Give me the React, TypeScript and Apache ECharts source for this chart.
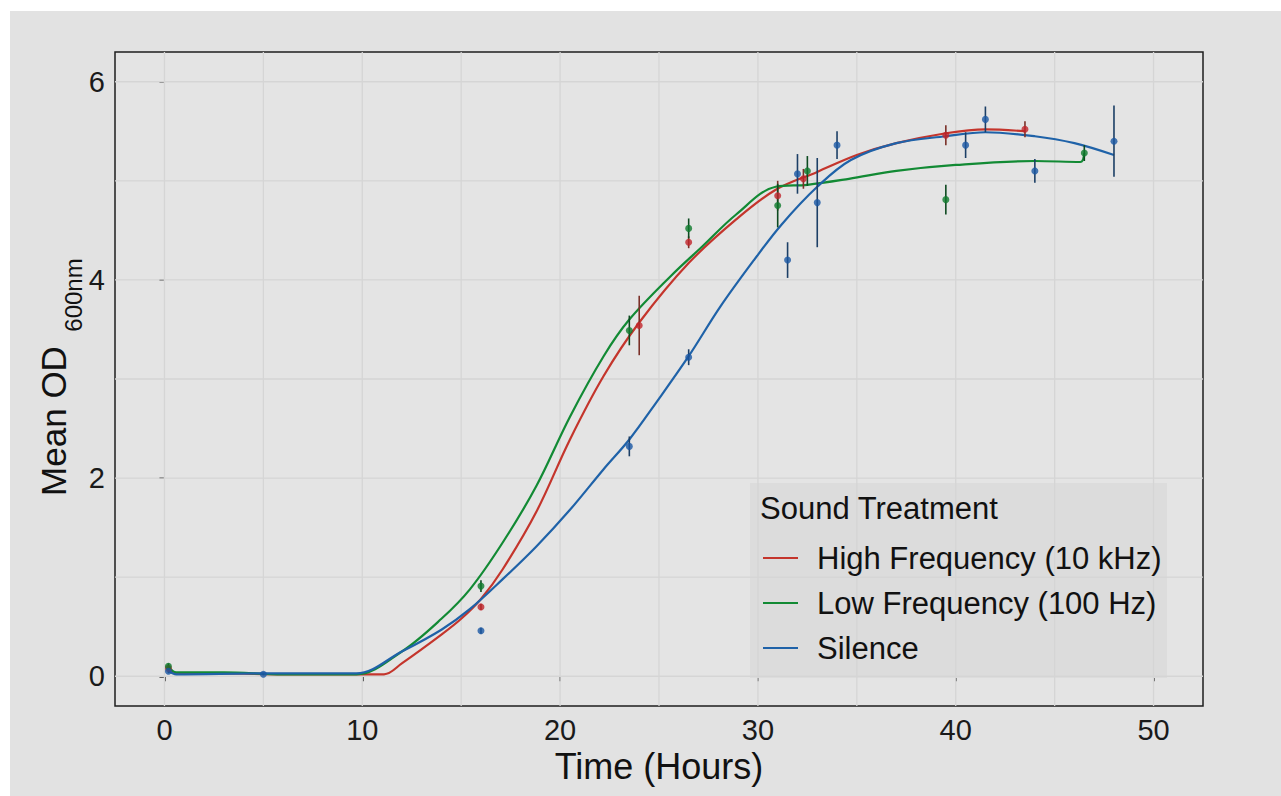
import React, { useEffect, useRef } from "react";
import * as echarts from "echarts";

// ---------- data ----------
const seriesNames = ["High Frequency (10 kHz)", "Low Frequency (100 Hz)", "Silence"];
const lineColors = ["#c4352c", "#128a34", "#1f62a8"];
const pointColors = ["#c0242a", "#0e7a2c", "#1a58a4"];
const barColors = ["#7a3028", "#0d4a20", "#1c3f66"];

const xTicks = [0, 10, 20, 30, 40, 50];
const yTicks = [0, 2, 4, 6];
const xGrid = [0, 5, 10, 15, 20, 25, 30, 35, 40, 45, 50];
const yGrid = [0, 1, 2, 3, 4, 5, 6];

// fitted curves
const highFitT = [0.2, 0.6, 3, 6, 9, 11.1, 12, 14, 15, 16, 17.1, 18.8, 20.5, 22.2, 24, 26.5, 28.9, 30.9, 33, 35, 37, 39.5, 41.5, 43.5];
const highFitV = [0.08, 0.03, 0.03, 0.02, 0.02, 0.02, 0.13, 0.42, 0.58, 0.78, 1.08, 1.66, 2.39, 3.03, 3.57, 4.17, 4.61, 4.91, 5.09, 5.26, 5.38, 5.48, 5.52, 5.5];
const lowFitT = [0.2, 0.6, 3, 6, 9.7, 12, 14, 15.45, 17.1, 18.8, 20.5, 22.2, 23.5, 25.6, 27.2, 28.9, 30.9, 32.5, 34.6, 37, 40, 44, 46.3, 46.5];
const lowFitV = [0.1, 0.04, 0.04, 0.02, 0.02, 0.25, 0.58, 0.88, 1.35, 1.92, 2.62, 3.23, 3.6, 4.04, 4.34, 4.66, 4.94, 4.96, 5.02, 5.1, 5.16, 5.2, 5.19, 5.28];
const silFitT = [0.2, 0.6, 5, 9.7, 12, 14, 15.45, 17.1, 18.8, 20.5, 22.2, 23.5, 24.85, 26.5, 28.1, 29.8, 31.2, 33, 34.7, 37, 39.5, 41.5, 44, 46, 48];
const silFitV = [0.05, 0.02, 0.03, 0.03, 0.25, 0.47, 0.68, 0.98, 1.31, 1.68, 2.09, 2.39, 2.76, 3.23, 3.73, 4.2, 4.56, 4.94, 5.21, 5.38, 5.45, 5.49, 5.45, 5.38, 5.26];

// observed means and error half-widths
const highPtT = [0.2, 16, 24, 26.5, 31, 32.3, 39.5, 43.5];
const highPtV = [0.08, 0.7, 3.54, 4.38, 4.85, 5.02, 5.46, 5.52];
const highPtE = [0.02, 0.03, 0.3, 0.06, 0.15, 0.1, 0.1, 0.08];
const lowPtT = [0.2, 16, 23.5, 26.5, 31, 32.5, 39.5, 46.5];
const lowPtV = [0.1, 0.91, 3.49, 4.52, 4.75, 5.1, 4.81, 5.28];
const lowPtE = [0.03, 0.06, 0.15, 0.1, 0.22, 0.15, 0.15, 0.08];
const silPtT = [0.2, 5, 16, 23.5, 26.5, 31.5, 32, 33, 34, 40.5, 41.5, 44, 48];
const silPtV = [0.05, 0.02, 0.46, 2.32, 3.22, 4.2, 5.07, 4.78, 5.36, 5.36, 5.62, 5.1, 5.4];
const silPtE = [0.02, 0.01, 0.03, 0.1, 0.08, 0.18, 0.2, 0.45, 0.14, 0.13, 0.13, 0.12, 0.36];

const fits = [
  [highFitT, highFitV],
  [lowFitT, lowFitV],
  [silFitT, silFitV],
];
const pts = [
  [highPtT, highPtV, highPtE],
  [lowPtT, lowPtV, lowPtE],
  [silPtT, silPtV, silPtE],
];

const FONT = "'Liberation Sans', Arial, Helvetica, sans-serif";

function buildOption(): any {
  const series: any[] = [];
  // gridlines
  series.push({
    type: "custom",
    silent: true,
    z: 1,
    data: xGrid.map((v) => [v, 0]),
    encode: { x: 0, y: 1 },
    renderItem: (params: any, api: any) => {
      const c = api.coord([api.value(0), 0]);
      const cs = params.coordSys;
      return {
        type: "line",
        shape: { x1: c[0], y1: cs.y, x2: c[0], y2: cs.y + cs.height },
        style: { stroke: "#d5d5d5", lineWidth: 1.3 },
      };
    },
  });
  series.push({
    type: "custom",
    silent: true,
    z: 1,
    data: yGrid.map((v) => [0, v]),
    encode: { x: 0, y: 1 },
    renderItem: (params: any, api: any) => {
      const c = api.coord([0, api.value(1)]);
      const cs = params.coordSys;
      return {
        type: "line",
        shape: { x1: cs.x, y1: c[1], x2: cs.x + cs.width, y2: c[1] },
        style: { stroke: "#d5d5d5", lineWidth: 1.3 },
      };
    },
  });
  seriesNames.forEach((name, i) => {
    const [ft, fv] = fits[i];
    series.push({
      name,
      type: "line",
      smooth: 0.35,
      showSymbol: false,
      z: 3,
      color: lineColors[i],
      lineStyle: { color: lineColors[i], width: 2.2 },
      data: ft.map((t, k) => [t, fv[k]]),
    });
  });
  seriesNames.forEach((name, i) => {
    const [pt, pv, pe] = pts[i];
    series.push({
      name,
      type: "custom",
      z: 4,
      silent: true,
      data: pt.map((t, k) => [t, pv[k] - pe[k], pv[k] + pe[k]]),
      encode: { x: 0, y: [1, 2] },
      renderItem: (params: any, api: any) => {
        const a = api.coord([api.value(0), api.value(1)]);
        const b = api.coord([api.value(0), api.value(2)]);
        return {
          type: "line",
          shape: { x1: a[0], y1: a[1], x2: b[0], y2: b[1] },
          style: { stroke: barColors[i], lineWidth: 1.6 },
        };
      },
    });
    series.push({
      name,
      type: "scatter",
      z: 5,
      symbolSize: 7,
      itemStyle: { color: pointColors[i] },
      data: pt.map((t, k) => [t, pv[k]]),
    });
  });

  return {
    animation: false,
    backgroundColor: "#e2e2e2",
    textStyle: { fontFamily: FONT },
    grid: {
      left: 105,
      top: 41,
      right: 78,
      bottom: 90,
      show: true,
      backgroundColor: "#e4e4e4",
      borderColor: "#1e1e1e",
      borderWidth: 1.5,
      z: 0,
    },
    xAxis: {
      type: "value",
      min: -2.5,
      max: 52.5,
      name: "Time (Hours)",
      nameLocation: "middle",
      nameGap: 40,
      nameTextStyle: { fontSize: 36, color: "#111", fontFamily: FONT },
      axisLine: { show: false },
      axisTick: { show: true, length: 5, customValues: xTicks, lineStyle: { color: "#333", width: 1.5 } },
      axisLabel: { customValues: xTicks, fontSize: 29, color: "#1a1a1a", margin: 9, fontFamily: FONT },
      splitLine: { show: false },
    },
    yAxis: {
      type: "value",
      min: -0.3,
      max: 6.3,
      axisLine: { show: false },
      axisTick: { show: true, length: 5, customValues: yTicks, lineStyle: { color: "#333", width: 1.5 } },
      axisLabel: { customValues: yTicks, fontSize: 29, color: "#1a1a1a", margin: 10, fontFamily: FONT },
      splitLine: { show: false },
    },
    legend: {
      data: seriesNames,
      orient: "vertical",
      left: 748,
      top: 526,
      icon: "rect",
      itemWidth: 35,
      itemHeight: 2,
      itemGap: 13,
      textStyle: { fontSize: 31, color: "#111", lineHeight: 32, fontFamily: FONT, padding: [0, 0, 0, 14] },
      selectedMode: false,
    },
    graphic: [
      {
        type: "rect",
        z: 1,
        shape: { x: 740, y: 472, width: 417, height: 195 },
        style: { fill: "#dcdcdc" },
        silent: true,
      },
      {
        type: "text",
        z: 2,
        x: 750,
        y: 497,
        style: { text: "Sound Treatment", fontSize: 31, fill: "#111", fontFamily: FONT, textVerticalAlign: "middle" },
      },
      {
        type: "text",
        z: 2,
        x: 43,
        y: 410,
        rotation: Math.PI / 2,
        style: { text: "Mean OD", fontSize: 35, fill: "#111", fontFamily: FONT, textAlign: "center", textVerticalAlign: "middle" },
      },
      {
        type: "text",
        z: 2,
        x: 63,
        y: 284,
        rotation: Math.PI / 2,
        style: { text: "600nm", fontSize: 24, fill: "#111", fontFamily: FONT, textAlign: "center", textVerticalAlign: "middle" },
      },
    ],
    series,
  };
}

export default function App() {
  const ref = useRef<HTMLDivElement>(null);
  useEffect(() => {
    if (!ref.current) return;
    const chart = echarts.init(ref.current, null, { renderer: "svg" });
    chart.setOption(buildOption());
    return () => chart.dispose();
  }, []);
  return (
    <div
      ref={ref}
      style={{ position: "absolute", left: 10, top: 11, width: 1271, height: 785 }}
    />
  );
}
